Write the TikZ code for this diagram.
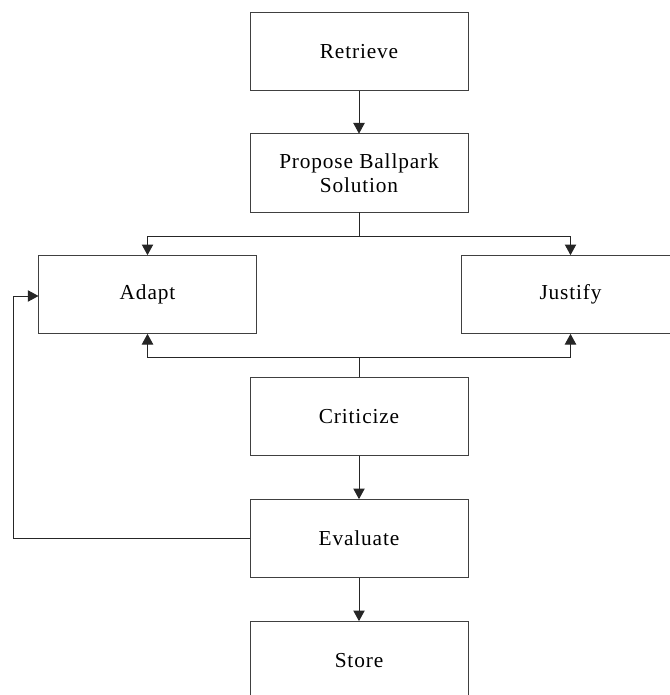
\documentclass[tikz,border=0pt]{standalone}
\usepackage{fontspec}
\setmainfont{Liberation Serif}[LetterSpace=4]
\usetikzlibrary{arrows.meta}
\begin{document}
\begin{tikzpicture}[x=0.75pt,y=-0.75pt,
  stage/.style={draw=black!75,line width=0.75pt,fill=white,minimum width=163.5pt,
    minimum height=59pt,inner sep=0pt,outer sep=0pt,align=center,
    font=\fontsize{16pt}{18pt}\selectfont},
  flow/.style={draw=black!85,line width=0.75pt,-{Triangle[width=8.5pt,length=8pt]}},
  link/.style={draw=black!85,line width=0.75pt}]
\useasboundingbox (0,0) rectangle (670,695);
\begin{scope}
\clip (0,0) rectangle (670,695);
\node[stage] (retrieve) at (359,51.5) {Retrieve};
\node[stage] (propose) at (359,173) {Propose Ballpark\\Solution};
\node[stage] (adapt) at (147.5,294.5) {Adapt};
\node[stage] (justify) at (570.5,294.5) {Justify};
\node[stage] (criticize) at (359,416.5) {Criticize};
\node[stage] (evaluate) at (359,538.5) {Evaluate};
\node[stage] (store) at (359,660.5) {Store};
\end{scope}

\coordinate (split) at (359,236);
\coordinate (join) at (359,357);
\coordinate (loopbottom) at (13,538.5);
\coordinate (looptop) at (13,296);

\draw[flow] (retrieve.south) -- (propose.north);
\draw[link] (propose.south) -- (split);
\draw[flow] (split) -| (adapt.north);
\draw[flow] (split) -| (justify.north);
\draw[link] (criticize.north) -- (join);
\draw[flow] (join) -| (adapt.south);
\draw[flow] (join) -| (justify.south);
\draw[flow] (criticize.south) -- (evaluate.north);
\draw[flow] (evaluate.south) -- (store.north);
\draw[flow] (evaluate.west) -- (loopbottom) -- (looptop) -- (adapt.west |- looptop);
\end{tikzpicture}
\end{document}
